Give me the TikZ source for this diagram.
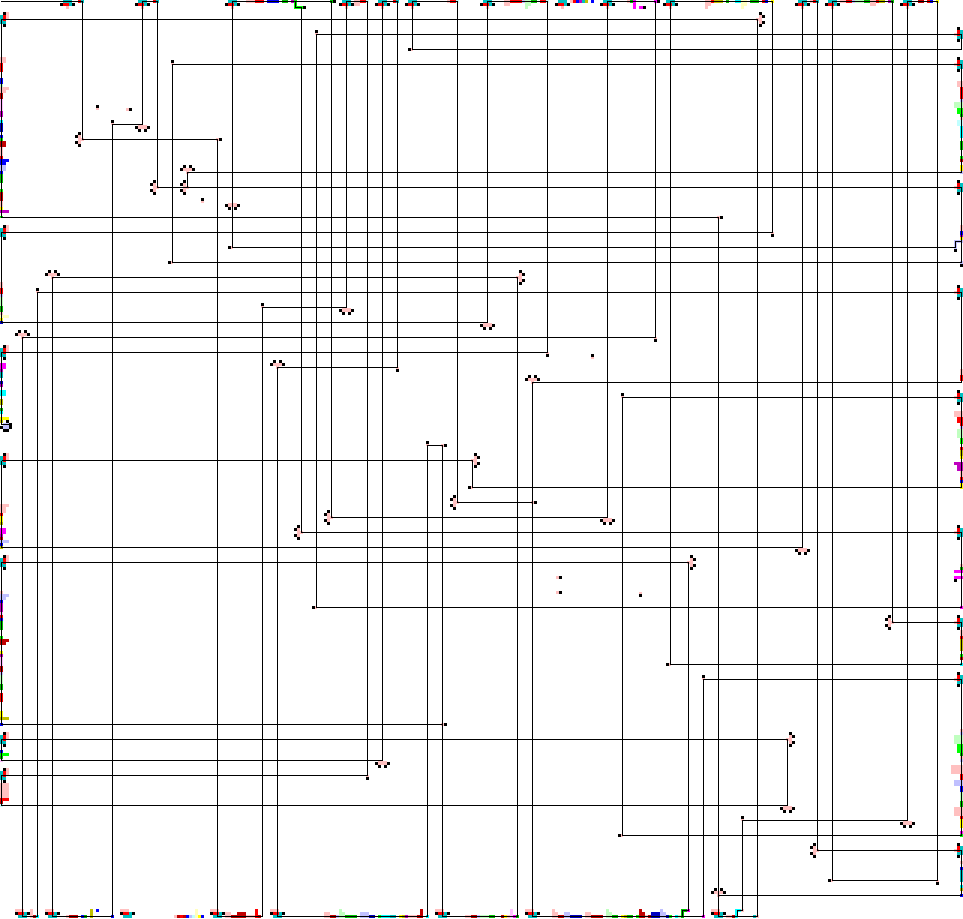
\documentclass[tikz,border=0pt]{standalone}
\definecolor{pk}{RGB}{255,192,192}
\definecolor{rd}{RGB}{255,0,0}
\definecolor{dr}{RGB}{192,0,0}
\definecolor{bl}{RGB}{0,0,255}
\definecolor{nv}{RGB}{0,0,192}
\definecolor{lv}{RGB}{192,192,255}
\definecolor{gn}{RGB}{0,255,0}
\definecolor{dg}{RGB}{0,192,0}
\definecolor{lg}{RGB}{192,255,192}
\definecolor{cy}{RGB}{0,255,255}
\definecolor{tl}{RGB}{0,192,192}
\definecolor{lc}{RGB}{192,255,255}
\definecolor{yw}{RGB}{255,255,0}
\definecolor{ol}{RGB}{192,192,0}
\definecolor{ly}{RGB}{255,255,192}
\definecolor{mg}{RGB}{255,0,255}
\definecolor{pu}{RGB}{192,0,192}
\definecolor{lm}{RGB}{255,192,255}
\tikzset{wire/.style={black, line width=1pt, line join=miter}}
\newcommand{\dotpin}[2]{\fill[black] (#1,#2) rectangle ++(3,3);}
\newcommand{\pintop}[1]{\begin{scope}[shift={(#1,0)}]
\fill[tl] (3,0) rectangle (12,3); \fill[rd] (3,3) rectangle (9,6); \fill[tl] (9,3) rectangle (12,6);
\fill[pk] (6,6) rectangle (9,9); \dotpin{0}{3} \dotpin{12}{3}
\end{scope}}
\newcommand{\pinbottom}[1]{\begin{scope}[shift={(#1,0)}]
\fill[pk] (0,909) rectangle (9,912); \fill[rd] (3,912) rectangle (9,915); \fill[tl] (9,912) rectangle (12,915);
\fill[tl] (3,915) rectangle (12,918); \dotpin{0}{912} \dotpin{12}{912}
\end{scope}}
\newcommand{\pinleft}[1]{\begin{scope}[shift={(0,#1)}]
\fill[pk] (6,0) rectangle (9,8); \fill[tl] (0,3) rectangle (3,12); \fill[rd] (3,3) rectangle (6,9);
\fill[tl] (3,9) rectangle (6,12); \dotpin{3}{0} \dotpin{3}{12}
\end{scope}}
\newcommand{\pinright}[1]{\begin{scope}[shift={(0,#1)}]
\fill[pk] (954,6) rectangle (957,9); \fill[rd] (957,3) rectangle (960,9); \fill[tl] (957,9) rectangle (960,12);
\fill[tl] (960,3) rectangle (963,12); \dotpin{957}{0} \dotpin{957}{12}
\end{scope}}
\newcommand{\clsouth}[2]{\begin{scope}[shift={(#1,#2)}]
\fill[pk] (3,-1) rectangle (12,3); \dotpin{0}{0} \dotpin{3}{3} \dotpin{9}{3} \dotpin{12}{0}
\end{scope}}
\newcommand{\clnorth}[2]{\begin{scope}[shift={(#1,#2)}]
\fill[pk] (3,0) rectangle (12,3); \fill[pk] (6,3) rectangle (9,6); \dotpin{0}{0} \dotpin{3}{-3} \dotpin{9}{-3} \dotpin{12}{0}
\end{scope}}
\newcommand{\clwest}[2]{\begin{scope}[shift={(#1,#2)}]
\fill[pk] (3,0) rectangle (6,9); \fill[pk] (6,3) rectangle (9,6); \dotpin{0}{0} \dotpin{3}{-3} \dotpin{0}{6} \dotpin{3}{9}
\end{scope}}
\newcommand{\cleast}[2]{\begin{scope}[shift={(#1,#2)}]
\fill[pk] (0,3) rectangle (3,12); \fill[pk] (-3,6) rectangle (0,9); \dotpin{0}{0} \dotpin{3}{3} \dotpin{3}{9} \dotpin{0}{12}
\end{scope}}
\begin{document}
\begin{tikzpicture}[x=1pt,y=-1pt]
\useasboundingbox (0,0) rectangle (963,918);
\fill[white] (0,0) rectangle (963,918);
% bars on the left edge
\foreach \ya/\yb/\xb/\cc in {57/63/6/pk,63/72/3/rd,78/84/3/bl,84/87/3/lg,87/90/9/pk,90/93/6/pk,93/99/3/dr,99/111/3/lm,111/117/3/pu,120/123/3/cy,123/132/3/nv,135/138/3/bl,138/141/3/gn,141/147/6/dr,147/156/3/pk,156/159/3/rd,159/162/9/bl,162/165/6/bl,165/171/6/lv,171/174/3/bl,174/183/3/dg,189/192/3/gn,192/201/3/dr,201/207/3/pk,207/210/3/yw,210/213/9/pu,216/218/3/gn,
282/288/3/pk,288/294/3/rd,294/297/3/lv,297/306/3/lg,306/312/3/dg,312/315/3/pk,315/318/9/ly,318/321/3/yw,321/324/3/nv,363/369/6/mg,369/372/3/pu,372/378/3/tl,381/384/3/nv,384/387/3/pu,390/396/6/cy,399/405/3/ol,408/411/3/dg,411/414/3/cy,417/420/9/yw,420/423/3/ol,
504/507/9/pk,507/513/6/pk,513/516/3/rd,516/522/3/yw,522/525/3/ol,528/534/6/mg,534/537/3/pu,537/540/3/dr,540/543/9/lv,543/546/3/bl,546/549/3/ol,591/594/3/pk,594/597/9/lv,597/600/6/lv,600/603/3/bl,603/612/3/pu,612/615/3/lm,615/618/3/rd,618/621/3/bl,621/630/3/dg,636/639/3/gn,639/642/9/dr,642/645/6/dr,651/654/3/yw,654/657/3/pu,657/666/3/lm,666/672/3/dr,672/675/3/lv,675/684/3/lg,684/690/3/dg,693/702/3/rd,711/717/3/yw,717/720/9/ol,723/726/3/bl,750/753/3/bl,753/756/9/gn,756/759/3/dg,759/762/3/lm,783/798/9/pk,798/801/9/rd,801/804/3/dr,804/807/3/lc}
  {\fill[fill=\cc] (0,\ya) rectangle (\xb,\yb);}
\fill[lv] (3,423) rectangle (9,429);
\fill[black] (9,423) rectangle (12,429);
\fill[black] (3,429) rectangle (9,432);
\dotpin{6}{420} \dotpin{0}{426}
% bars on the right edge
\foreach \ya/\yb/\xa/\cc in {81/87/957/pk,87/99/960/rd,99/102/960/lv,102/108/954/lg,108/114/957/gn,114/117/960/dg,117/120/960/pk,120/126/957/lc,126/138/960/cy,141/150/960/dg,156/159/960/gn,159/162/960/dr,165/171/960/yw,171/174/960/lv,225/231/960/pk,231/235/960/bl,235/237/960/pu,237/240/960/yw,240/243/954/lv,261/264/960/lv,
369/375/960/pk,375/381/960/rd,411/417/954/pk,417/423/957/rd,423/426/960/rd,426/429/960/lv,429/438/957/lg,438/444/960/gn,447/450/960/rd,450/456/960/ol,456/459/960/yw,462/465/954/pu,465/471/957/pu,471/477/960/pk,477/480/960/rd,480/483/960/bl,483/489/960/yw,
564/567/960/pk,567/570/960/dg,570/573/954/mg,576/579/954/mg,606/609/960/mg,630/636/960/pk,636/639/960/rd,639/651/960/ol,654/657/960/gn,657/660/960/dr,663/666/960/cy,729/732/960/pk,732/735/960/lv,735/744/954/lg,744/753/957/gn,753/756/960/dg,756/759/960/pk,759/762/960/lv,765/774/951/pk,774/780/960/rd,780/786/954/lv,786/792/960/bl,792/801/960/lg,801/807/960/dg,807/816/954/pk,816/819/960/rd,819/828/960/yw,831/834/960/mg,834/837/960/gn,861/864/960/pk,867/870/960/bl,870/882/960/tl,885/888/960/cy,888/891/960/ol,894/897/960/bl}
  {\fill[fill=\cc] (\xa,\ya) rectangle (963,\yb);}
\fill[lv] (954,243) rectangle (957,249);
% bars on the top edge
\foreach \xa/\xb/\yb/\cc in {78/81/3/rd,81/84/3/tl,153/156/3/rd,156/159/3/tl,246/255/3/pk,255/264/3/rd,267/279/3/bl,282/288/3/dg,291/294/3/pu,294/297/9/gn,330/333/3/dg,354/360/6/pk,360/366/3/rd,366/369/3/lc,393/396/3/rd,396/399/3/tl,447/450/3/pk,450/456/3/rd,456/459/3/lc,504/510/6/pk,510/522/3/rd,522/525/3/lv,525/531/6/lg,525/528/9/lg,531/537/3/dg,540/546/3/rd,546/549/3/lc,570/573/3/pk,573/576/3/rd,576/579/3/bl,579/582/3/pu,582/585/3/tl,585/588/3/ol,591/594/3/bl,627/630/3/pk,630/633/3/dg,633/636/9/mg,654/657/3/mg,705/711/6/pk,705/708/9/pk,711/714/3/rd,714/723/3/ol,726/729/3/dg,735/741/3/cy,741/747/6/ly,741/744/9/ly,750/759/3/dg,762/765/3/rd,765/768/3/bl,771/774/3/yw,810/813/3/pk,813/816/3/rd,816/819/3/tl,840/846/3/pk,846/852/3/rd,852/855/3/lv,855/864/3/lg,864/870/3/dg,870/876/6/pk,876/879/3/rd,879/885/3/ol,888/891/3/pu,891/894/3/dg,918/924/3/dr,927/930/3/rd,930/933/3/bl,936/939/3/yw}
  {\fill[fill=\cc] (\xa,0) rectangle (\xb,\yb);}
\fill[gn] (297,6) rectangle (303,9);
\fill[mg] (639,6) rectangle (643,9);
% bars on the bottom edge
\foreach \xa/\xb/\ya/\cc in {30/33/909/pk,33/36/915/dr,36/39/915/cy,66/69/915/pk,69/78/915/dr,81/84/915/bl,84/87/915/dg,90/93/909/ol,111/114/915/bl,174/177/915/pk,177/180/915/dr,180/183/915/rd,183/186/915/dr,186/189/915/bl,189/192/915/lv,192/195/915/lc,195/198/909/ly,198/201/915/yw,201/204/915/bl,225/231/912/pk,231/237/915/dr,237/246/912/dr,246/255/915/pk,255/258/909/rd,258/261/915/dr,324/330/912/pk,330/336/915/dr,336/339/915/lv,339/342/909/lg,342/345/912/lg,345/357/915/dg,360/369/912/lv,369/375/915/nv,378/381/915/gn,381/390/915/cy,390/396/915/tl,399/402/915/yw,402/405/915/ol,405/408/915/pu,408/417/915/pk,417/420/915/dr,420/423/909/dr,426/429/915/cy,465/471/915/pk,471/477/915/dr,477/480/915/lv,480/489/915/lg,489/495/915/dg,501/504/915/dr,504/507/915/yw,507/510/915/pk,510/513/909/lm,513/516/915/mg,516/519/915/dg,552/555/909/pk,555/558/912/pk,558/564/915/dr,564/570/912/lv,570/582/915/nv,585/591/912/pk,591/603/915/dr,606/609/909/lg,609/612/912/lg,612/618/915/dg,621/624/915/yw,624/627/915/ol,627/633/915/dg,636/639/915/gn,639/642/909/dr,642/645/912/dr,645/648/915/pk,648/651/915/dr,651/660/912/nv,660/663/909/lv,663/666/912/lv,666/669/915/nv,669/672/915/gn,675/678/915/cy,678/681/915/lg,681/684/909/dg,702/705/915/mg,726/732/915/pk,732/735/915/dr,735/738/909/cy,753/756/915/tl,756/759/915/pk}
  {\fill[fill=\cc] (\xa,\ya) rectangle (\xb,918);}
\fill[dg] (684,909) rectangle (687,912);
\fill[mg] (687,909) rectangle (690,912);
\fill[cy] (738,909) rectangle (741,912);
\fill[pk] (741,909) rectangle (744,912);
\fill[bl] (96,909) rectangle (99,912);
% edge pins
\foreach \px in {60,135,225,339,375,405,480,555,600,663,795,825,900} {\pintop{\px}}
\foreach \px in {15,45,120,210,270,435,525,711} {\pinbottom{\px}}
\foreach \py in {12,225,345,453,555,732,768} {\pinleft{\py}}
\foreach \py in {27,57,180,285,390,525,615,672,843} {\pinright{\py}}
% clusters of four dots
\foreach \px/\py in {135/126,225/204,339/309,480/324,600/519,795/549,375/762,780/807,900/822} {\clsouth{\px}{\py}}
\foreach \px/\py in {180/168,45/273,15/333,270/363,525/378,711/891} {\clnorth{\px}{\py}}
\foreach \px/\py in {75/135,150/183,180/183,450/498,324/513,294/528,885/618,810/846} {\clwest{\px}{\py}}
\foreach \px/\py in {759/12,519/270,474/453,690/555,789/732} {\cleast{\px}{\py}}
% single dots, with the pink side they show
\foreach \px/\py in {96/105,111/120,171/60,201/198,315/30,36/288,741/816,261/303,621/393,702/675,426/441,591/354} {\fill[pk] (\px,\py+3) rectangle ++(3,2); \dotpin{\px}{\py}}
\foreach \px/\py in {129/108,219/138,720/216,444/444,534/501,444/723,559/576,559/591} {\fill[pk] (\px-3,\py) rectangle ++(3,3); \dotpin{\px}{\py}}
\foreach \px/\py in {408/48,228/246,168/261,468/486,618/834,312/606,666/663,828/879} {\fill[pk] (\px+3,\py) rectangle ++(2,3); \dotpin{\px}{\py}}
\foreach \px/\py in {771/234,936/882,654/339,546/354,396/369,366/777,639/594} {\fill[pk] (\px,\py-2) rectangle ++(3,2); \dotpin{\px}{\py}}
\foreach \px/\py in {333/0,657/0,303/6,643/6,954/249,960/264,954/579} {\dotpin{\px}{\py}}
% wires
\begin{scope}[shift={(0.5,0.5)}]
\draw[wire] (1,19) -- (757,19) -- (757,916) -- (718,916) -- (718,217) -- (1,217) -- cycle;
\draw[wire] (737,916) -- (737,910) -- (742,910) -- (742,820) -- (907,820) -- (907,1) -- (937,1) -- (937,880) -- (832,880) -- (832,1) -- (892,1) -- (892,622) -- (961,622) -- (961,664) -- (670,664) -- (670,1) -- (772,1) -- (772,232) -- (1,232) -- (1,322) -- (487,322) -- (487,1) -- (547,1) -- (547,352) -- (1,352) -- (1,424) -- (8,424);
\draw[wire] (1,460) -- (472,460) -- (472,487) -- (961,487) -- (961,397) -- (622,397) -- (622,835) -- (961,835) -- (961,679) -- (703,679) -- (703,916) -- (532,916) -- (532,382) -- (961,382) -- (961,292) -- (37,292) -- (37,916) -- (22,916) -- (22,337) -- (655,337) -- (655,1) -- (607,1) -- (607,517) -- (331,517) -- (331,1) -- (232,1) -- (232,247) -- (955,247) -- (955,241) -- (961,241);
\draw[wire] (961,187) -- (157,187) -- (157,1) -- (142,1) -- (142,124) -- (112,124) -- (112,916) -- (52,916) -- (52,277) -- (517,277) -- (517,916) -- (442,916) -- (442,445) -- (427,445) -- (427,916) -- (277,916) -- (277,367) -- (397,367) -- (397,1) -- (382,1) -- (382,760) -- (1,760) -- (1,739) -- (787,739) -- (787,805) -- (1,805) -- (1,775) -- (367,775) -- (367,1) -- (346,1) -- (346,307) -- (262,307) -- (262,916) -- (217,916) -- (217,139) -- (82,139) -- (82,1) -- (0,1);
\draw[wire] (961,187) -- (961,262) -- (172,262) -- (172,64) -- (961,64) -- (961,172) -- (187,172) -- (187,187);
\draw[wire] (532,502) -- (457,502) -- (457,1) -- (412,1) -- (412,49) -- (961,49) -- (961,34) -- (316,34) -- (316,607) -- (961,607) -- (961,532) -- (301,532) -- (301,7) -- (295,7) -- (295,1);
\draw[wire] (1,460) -- (1,547) -- (802,547) -- (802,1) -- (817,1) -- (817,850) -- (961,850) -- (961,895) -- (718,895);
\draw[wire] (442,724) -- (1,724) -- (1,562) -- (688,562) -- (688,910) -- (682,910) -- (682,916);
\end{scope}
\end{tikzpicture}
\end{document}
